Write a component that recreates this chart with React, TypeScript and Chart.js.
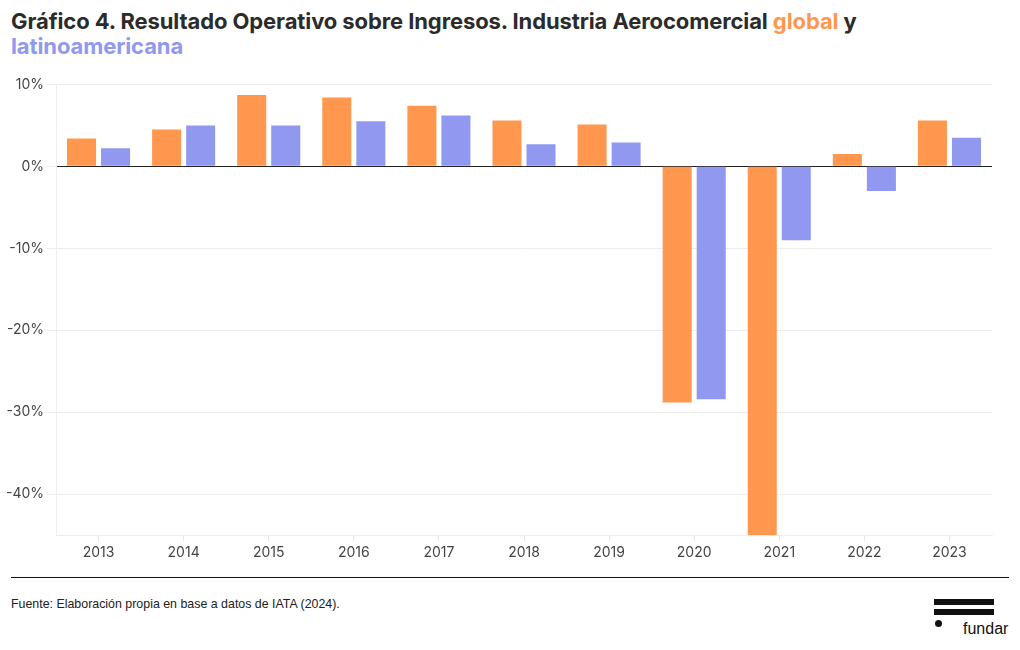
import React, { useEffect, useRef } from "react";
import { Chart, registerables } from "chart.js";

Chart.register(...registerables);

const years = ["2013", "2014", "2015", "2016", "2017", "2018", "2019", "2020", "2021", "2022", "2023"];
const globalValues = [3.4, 4.5, 8.7, 8.4, 7.4, 5.6, 5.1, -28.8, -45.0, 1.5, 5.6];
const latamValues = [2.2, 5.0, 5.0, 5.5, 6.2, 2.7, 2.9, -28.4, -9.0, -3.0, 3.5];
const yTicks = [-40, -30, -20, -10, 0, 10];

const ORANGE = "#ff974f";
const BLUE = "#9198ef";
const FONT = "Inter, 'Liberation Sans', Arial, sans-serif";

export default function App() {
  const ref = useRef<HTMLCanvasElement | null>(null);

  useEffect(() => {
    document.body.style.margin = "0";
    if (!ref.current) return;
    const chart = new Chart(ref.current, {
      type: "bar",
      data: {
        labels: years,
        datasets: [
          { label: "global", data: globalValues, backgroundColor: ORANGE, categoryPercentage: 0.8, barPercentage: 0.853 },
          { label: "latinoamericana", data: latamValues, backgroundColor: BLUE, categoryPercentage: 0.8, barPercentage: 0.853 },
        ],
      },
      options: {
        animation: false,
        responsive: false,
        maintainAspectRatio: false,
        layout: { padding: { top: 11, right: 18, left: 0, bottom: 0 } },
        plugins: { legend: { display: false }, tooltip: { enabled: false } },
        scales: {
          x: {
            grid: { display: true, offset: false, drawOnChartArea: false, drawTicks: true, tickLength: 6, color: "#e6e6e6" },
            border: { display: true, color: "#eeeeee" },
            ticks: { color: "#444", font: { family: FONT, size: 14 }, padding: 3 },
          },
          y: {
            min: -45,
            max: 10,
            afterBuildTicks: (axis: any) => {
              axis.ticks = yTicks.map((v) => ({ value: v }));
            },
            afterFit: (axis: any) => {
              axis.width = 56;
            },
            grid: {
              color: (ctx: any) => (ctx.tick && ctx.tick.value === 0 ? "#222222" : "#ececec"),
              tickColor: "#ececec",
              lineWidth: 1,
              drawTicks: true,
              tickLength: 9,
            },
            border: { display: true, color: "#eeeeee" },
            ticks: {
              color: "#444",
              font: { family: FONT, size: 14 },
              padding: 3,
              callback: (v: any) => `${v}%`,
            },
          },
        },
      },
    });
    return () => chart.destroy();
  }, []);

  return (
    <div style={{ position: "relative", width: 1020, height: 650, background: "#fff", overflow: "hidden" }}>
      <div
        style={{
          position: "absolute",
          left: 11,
          top: 9,
          width: 1000,
          fontFamily: FONT,
          fontWeight: 700,
          fontSize: 22,
          lineHeight: "25px",
          color: "#2b2b2b",
          letterSpacing: "-0.1px",
        }}
      >
        Gráfico 4. Resultado Operativo sobre Ingresos. Industria Aerocomercial{" "}
        <span style={{ color: ORANGE }}>global</span> y
        <br />
        <span style={{ color: BLUE }}>latinoamericana</span>
      </div>
      <canvas ref={ref} width={1010} height={491} style={{ position: "absolute", left: 0, top: 73, width: 1010, height: 491 }} />
      <div style={{ position: "absolute", left: 11, top: 577, width: 998, height: 1, background: "#111" }} />
      <div
        style={{
          position: "absolute",
          left: 11,
          top: 597,
          fontFamily: "'Liberation Sans Narrow', 'Liberation Sans', Arial, sans-serif",
          fontSize: 12.4,
          color: "#222",
        }}
      >
        Fuente: Elaboración propia en base a datos de IATA (2024).
      </div>
      <div style={{ position: "absolute", left: 934, top: 599, width: 60, height: 6, background: "#111" }} />
      <div style={{ position: "absolute", left: 934, top: 609, width: 60, height: 6, background: "#111" }} />
      <div style={{ position: "absolute", left: 934.5, top: 619.5, width: 7, height: 7, borderRadius: "50%", background: "#111" }} />
      <div
        style={{
          position: "absolute",
          left: 963,
          top: 620,
          fontFamily: "'Liberation Sans Narrow', 'Liberation Sans', Arial, sans-serif",
          fontSize: 16,
          color: "#111",
        }}
      >
        fundar
      </div>
    </div>
  );
}
